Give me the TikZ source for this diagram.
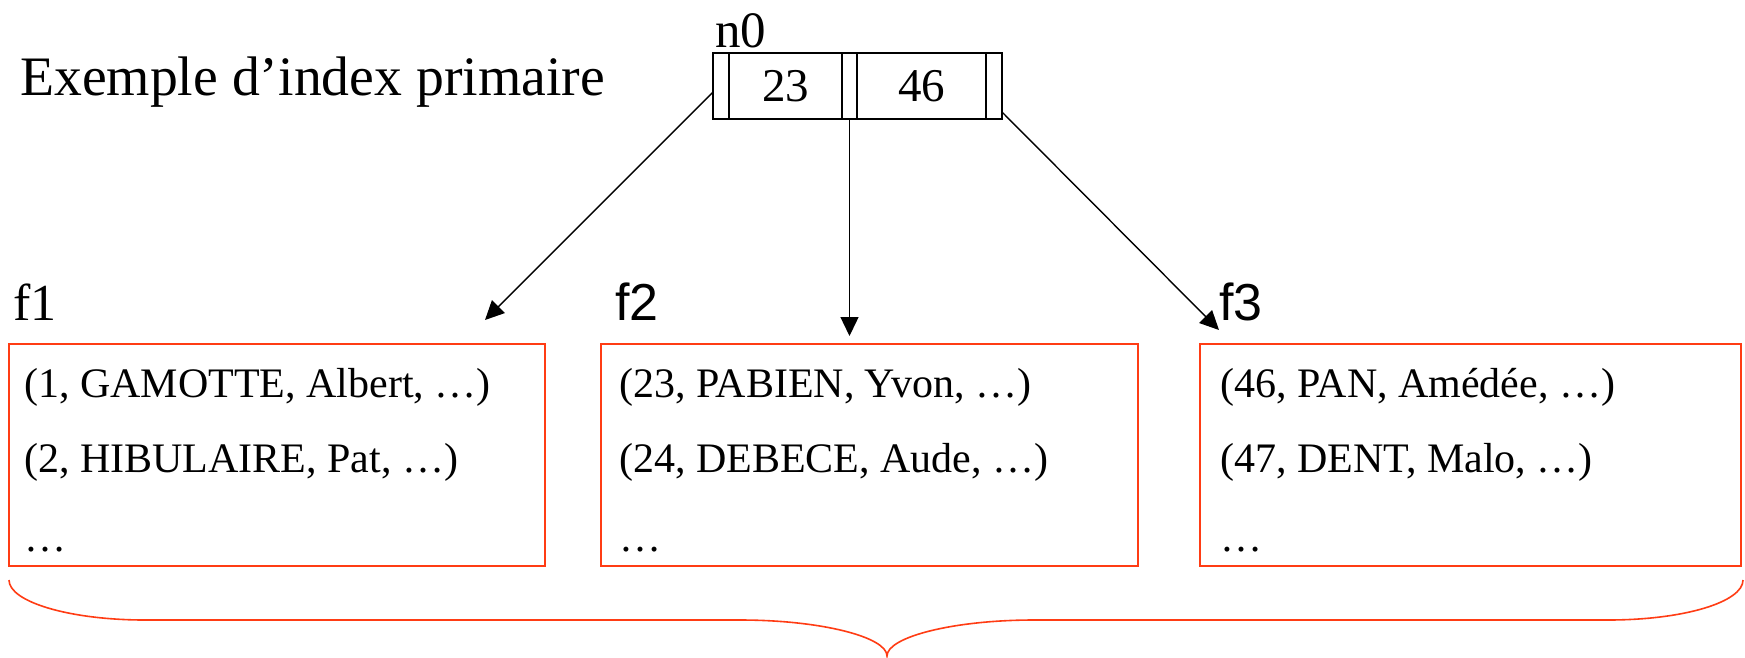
\documentclass[tikz,border=0pt]{standalone}
\usepackage{fontspec}
\setmainfont{Liberation Serif}
\newfontfamily\sansf{Liberation Sans}
\usetikzlibrary{arrows.meta}
\definecolor{boxred}{RGB}{255,60,20}
\begin{document}
\begin{tikzpicture}[x=1pt,y=-1pt,
  cell/.style={draw=black, line width=1.6pt, minimum height=66pt, inner sep=0pt, outer sep=0pt, anchor=west, font=\fontsize{47}{50}\selectfont},
  recbox/.style={draw=boxred, line width=1.6pt, inner sep=0pt, outer sep=0pt},
  rowtext/.style={anchor=base west, inner sep=0pt, font=\fontsize{42}{50}\selectfont},
  lbl/.style={anchor=base west, inner sep=0pt},
  ptr/.style={-{Triangle[length=19pt,width=18pt]}, line width=1.4pt},
  bracestyle/.style={draw=boxred, line width=1.6pt}
]
\useasboundingbox[fill=white] (0,0) rectangle (1745,657);

% title
\node[lbl, font=\fontsize{55.7}{60}\selectfont] (title) at (20,95) {Exemple d’index primaire};

% index node n0
\node[lbl, font=\fontsize{51}{54}\selectfont] (n0) at (715,47) {n0};
\node[cell, minimum width=16pt] (p1) at (713,86) {};
\node[cell, minimum width=113pt] (k1) at (p1.east) {23};
\node[cell, minimum width=15pt] (p2) at (k1.east) {};
\node[cell, minimum width=129pt] (k2) at (p2.east) {46};
\node[cell, minimum width=16pt] (p3) at (k2.east) {};

% file labels
\node[lbl, font=\fontsize{52}{56}\selectfont] (f1) at (13,320) {f1};
\node[lbl, font=\sansf\fontsize{52}{56}\selectfont] (f2) at (615,320) {f2};
\node[lbl, font=\sansf\fontsize{52}{56}\selectfont] (f3) at (1219,320) {f3};

% file boxes
\node[recbox, minimum width=536pt, minimum height=222pt] (b1) at (277,455) {};
\node[recbox, minimum width=537pt, minimum height=222pt] (b2) at (869.5,455) {};
\node[recbox, minimum width=541pt, minimum height=222pt] (b3) at (1470.5,455) {};

% records
\node[rowtext] (r11) at (24,397) {(1, GAMOTTE, Albert, …)};
\node[rowtext] (r12) at (24,472) {(2, HIBULAIRE, Pat, …)};
\node[rowtext] (r13) at (24,551) {…};
\node[rowtext] (r21) at (619,397) {(23, PABIEN, Yvon, …)};
\node[rowtext] (r22) at (619,472) {(24, DEBECE, Aude, …)};
\node[rowtext] (r23) at (619,551) {…};
\node[rowtext] (r31) at (1220,397) {(46, PAN, Amédée, …)};
\node[rowtext] (r32) at (1220,472) {(47, DENT, Malo, …)};
\node[rowtext] (r33) at (1220,551) {…};

% pointers
\coordinate (t1) at (485,320);
\coordinate (t3) at (1219,330);
\draw[ptr] ([yshift=-6pt]p1.west) -- (t1);
\draw[ptr] (p2.south) -- ([yshift=-217pt]p2.south);
\draw[ptr] ([yshift=-26pt]p3.east) -- (t3);

% brace
\draw[bracestyle] (9,580) .. controls (9,602) and (70,620) .. (145,620)
  -- (740,620) .. controls (821,620) and (887,637) .. (887,656)
  .. controls (887,637) and (953,620) .. (1034,620)
  -- (1608,620) .. controls (1684,620) and (1743,602) .. (1743,580);
\end{tikzpicture}
\end{document}
